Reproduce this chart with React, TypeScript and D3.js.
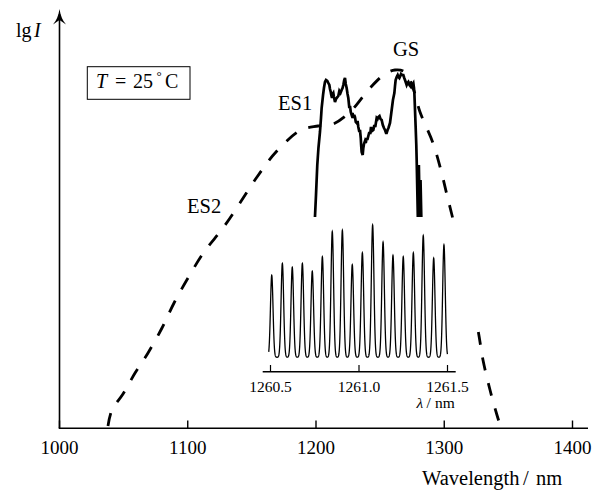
import React, { useLayoutEffect, useRef, useState } from "react";
import * as d3 from "d3";

// ---- data ----
const WL_TICKS = [1000, 1100, 1200, 1300, 1400];
const INSET_TICKS = [1260.5, 1261.0, 1261.5];

// dashed envelope (ES2 / ES1 / GS), lg I in arbitrary units
const ENV_WL = [1037.8, 1040.9, 1049.5, 1058.9, 1069.0, 1079.9, 1089.3, 1100.2, 1112.7, 1127.5, 1140.7, 1154.0, 1168.8, 1188.3, 1201.6, 1213.3, 1226.5, 1242.1, 1253.8, 1261.6, 1269.4, 1275.6, 1281.1, 1291.2, 1297.4, 1302.1, 1306.0, 1316.2, 1326.3, 1330.2, 1335.7, 1341.1, 1344.3];
const ENV_LGI = [0.02, 0.18, 0.34, 0.55, 0.75, 1.0, 1.25, 1.5, 1.76, 2.0, 2.25, 2.51, 2.76, 2.98, 3.02, 3.04, 3.16, 3.4, 3.54, 3.58, 3.56, 3.4, 3.16, 2.85, 2.58, 2.33, 2.13, 1.58, 0.98, 0.68, 0.38, 0.13, 0.0];
// wavelength span where the dashed trace is missing in the original
const ENV_GAP = [1307, 1325.5];

// solid lasing spectrum
const LAS_WL = [
  1199.2, 1200.0, 1201.0, 1201.9, 1203.1, 1203.9, 1204.4, 1205.5, 1206.2, 1207.0,
  1207.8, 1208.8, 1209.6, 1210.4, 1210.9, 1211.5, 1211.9, 1212.5, 1213.0, 1213.5,
  1214.0, 1214.8, 1215.6, 1216.1, 1216.8, 1217.4, 1218.2, 1219.1, 1220.0, 1220.7,
  1221.3, 1222.0, 1222.6, 1223.2, 1223.9, 1224.6, 1225.2, 1226.0, 1226.5, 1227.1,
  1227.8, 1228.5, 1229.1, 1229.8, 1230.4, 1231.0, 1231.7, 1232.4, 1233.0, 1233.8,
  1234.3, 1234.9, 1235.2, 1235.6, 1236.4, 1236.9, 1237.4, 1238.2, 1238.8, 1239.5,
  1240.0, 1240.8, 1241.6, 1242.3, 1242.9, 1243.7, 1244.7, 1245.5, 1246.2, 1247.3,
  1248.0, 1248.6, 1249.5, 1250.3, 1251.2, 1252.1, 1253.0, 1253.8, 1254.6, 1255.1,
  1255.8, 1256.5, 1257.7, 1258.5, 1259.0, 1260.0, 1261.1, 1261.6, 1262.1, 1262.9,
  1263.7, 1264.3, 1265.0, 1265.7, 1266.3, 1267.1, 1268.1, 1268.8, 1269.4, 1270.2,
  1270.7, 1271.4, 1272.0, 1272.9, 1274.1, 1274.9, 1275.9, 1276.4, 1276.7, 1277.2,
  1277.7, 1278.2, 1278.5, 1279.4, 1280.2, 1280.9, 1281.5, 1282.1];
const LAS_LGI = [
  2.11, 2.33, 2.63, 2.80, 2.96, 3.10, 3.20, 3.33, 3.40, 3.46,
  3.48, 3.47, 3.45, 3.43, 3.39, 3.36, 3.33, 3.30, 3.34, 3.35,
  3.31, 3.26, 3.29, 3.30, 3.31, 3.32, 3.37, 3.35, 3.38, 3.40,
  3.43, 3.48, 3.50, 3.44, 3.40, 3.34, 3.30, 3.20, 3.22, 3.16,
  3.13, 3.15, 3.10, 3.13, 3.11, 3.06, 3.05, 3.07, 3.01, 2.96,
  2.98, 2.90, 2.83, 2.76, 2.73, 2.80, 2.84, 2.87, 2.85, 2.90,
  2.88, 2.92, 2.96, 2.94, 3.01, 2.97, 2.98, 3.03, 3.01, 3.10,
  3.09, 3.11, 3.12, 3.09, 3.08, 3.03, 3.00, 2.98, 2.95, 2.95,
  2.98, 3.00, 3.05, 3.13, 3.18, 3.28, 3.35, 3.42, 3.48, 3.51,
  3.53, 3.51, 3.50, 3.52, 3.54, 3.53, 3.53, 3.50, 3.48, 3.45,
  3.43, 3.45, 3.46, 3.43, 3.41, 3.43, 3.45, 3.40, 3.35, 3.18,
  3.01, 2.83, 2.68, 2.11, 2.63, 2.11, 2.48, 2.11];

// inset: longitudinal modes
const MODE_WL = [1260.507, 1260.567, 1260.623, 1260.68, 1260.736, 1260.793, 1260.849, 1260.906, 1260.962, 1261.019, 1261.077, 1261.136, 1261.192, 1261.25, 1261.307, 1261.363, 1261.422, 1261.48];
const MODE_H = [0.62, 0.71, 0.68, 0.71, 0.65, 0.76, 0.95, 0.96, 0.7, 0.79, 1.0, 0.87, 0.77, 0.76, 0.79, 0.92, 0.75, 0.85];
const MODE_SIGMA = 0.0073;

const FONT = '"Liberation Serif", "Times New Roman", serif';

export default function App() {
  const W = 598, H = 490;
  const x = d3.scaleLinear().domain([1000, 1400]).range([59.5, 572.5]);
  const y = d3.scaleLinear().domain([0, 4]).range([428, 28]);
  const xi = d3.scaleLinear().domain([1260.5, 1261.5]).range([270.5, 447.5]);
  const yi = d3.scaleLinear().domain([0, 1]).range([357.3, 225]);

  const envLine = d3.line<number>()
    .x((_, i) => x(ENV_WL[i]))
    .y((_, i) => y(ENV_LGI[i]))
    .curve(d3.curveCatmullRom.alpha(0.5));
  const lasLine = d3.line<number>()
    .x((_, i) => x(LAS_WL[i]))
    .y((_, i) => y(LAS_LGI[i]));

  const samples: [number, number][] = [];
  for (let w = 1260.49; w <= 1261.5; w += 0.0005) {
    let s = 0;
    MODE_WL.forEach((c, k) => {
      s += MODE_H[k] * Math.exp(-((w - c) ** 2) / (2 * MODE_SIGMA * MODE_SIGMA));
    });
    samples.push([w, s]);
  }
  const insetLine = d3.line<[number, number]>().x(d => xi(d[0])).y(d => yi(d[1]));

  const envRef = useRef<SVGPathElement>(null);
  const [dash, setDash] = useState("13 13");
  useLayoutEffect(() => {
    const p = envRef.current;
    if (!p) return;
    const L = p.getTotalLength();
    const lenAtX = (px: number) => {
      let lo = 0, hi = L;
      for (let k = 0; k < 40; k++) {
        const m = (lo + hi) / 2;
        if (p.getPointAtLength(m).x < px) lo = m; else hi = m;
      }
      return lo;
    };
    const a = lenAtX(x(ENV_GAP[0]));
    const b = lenAtX(x(ENV_GAP[1]));
    const intervals: [number, number][] = [];
    for (let s = 0; s < L; s += 26) {
      const e = Math.min(s + 13, L);
      if (e <= a || s >= b) intervals.push([s, e]);
      else if (s < a) intervals.push([s, a]);
      else if (e > b) intervals.push([b, e]);
    }
    const arr: number[] = [];
    let pos = 0;
    intervals.forEach(([s, e]) => {
      arr.push(s - pos < 0 ? 0 : s - pos);
      arr.push(e - s);
      pos = e;
    });
    // dasharray must start with a dash: shift so first entry is gap 0
    const out = [0, ...arr, L];
    setDash(out.map(v => v.toFixed(2)).join(" "));
  }, []);

  return (
    <svg width={W} height={H} style={{ position: "absolute", left: 0, top: 0, background: "#fff" }} fontFamily={FONT}>
      <rect width={W} height={H} fill="#fff" />
      {/* axes */}
      <line x1={59.5} y1={428} x2={59.5} y2={14} stroke="#000" strokeWidth={1.6} />
      <path d="M59.5,9 Q61,19 66,24.5 L59.5,20 L53,24.5 Q58,19 59.5,9 Z" fill="#000" />
      <line x1={58.7} y1={428.3} x2={588} y2={428.3} stroke="#000" strokeWidth={1.6} />
      {WL_TICKS.map(t => (
        <g key={t}>
          <line x1={x(t)} x2={x(t)} y1={428} y2={420.5} stroke="#000" strokeWidth={1.4} />
          <text x={x(t)} y={454} fontSize={19} textAnchor="middle">{t}</text>
        </g>
      ))}
      <text y={485} fontSize={20.5}>
        <tspan x={422}>Wavelength</tspan>
        <tspan x={523}>/</tspan>
        <tspan x={536}>nm</tspan>
      </text>
      <text y={36.7} fontSize={20}>
        <tspan x={16}>lg</tspan>
        <tspan x={34} fontStyle="italic">I</tspan>
      </text>

      {/* legend box */}
      <rect x={87.3} y={66.7} width={102.7} height={32.6} fill="none" stroke="#000" strokeWidth={1} />
      <text y={88.3} fontSize={20}>
        <tspan x={96} fontStyle="italic">T</tspan>
        <tspan x={115}>=</tspan>
        <tspan x={133}>25</tspan>
        <tspan x={156.5} fontSize={13} dy={-8}>°</tspan>
        <tspan x={165} dy={8}>C</tspan>
      </text>

      {/* curves */}
      <path ref={envRef} d={envLine(ENV_WL) || ""} fill="none" stroke="#000" strokeWidth={2.8} strokeDasharray={dash} />
      <path d={lasLine(LAS_WL) || ""} fill="none" stroke="#000" strokeWidth={2.7} strokeLinejoin="miter" strokeMiterlimit={3} />

      <text x={393} y={56} fontSize={20.5}>GS</text>
      <text x={278} y={110} fontSize={20.5}>ES1</text>
      <text x={187} y={213} fontSize={20.5}>ES2</text>

      {/* inset */}
      <path d={insetLine(samples) || ""} fill="none" stroke="#000" strokeWidth={1.3} />
      <line x1={262.7} x2={455.7} y1={371.7} y2={371.7} stroke="#000" strokeWidth={1.4} />
      {INSET_TICKS.map(t => (
        <g key={t}>
          <line x1={xi(t)} x2={xi(t)} y1={371.7} y2={365} stroke="#000" strokeWidth={1.2} />
          <text x={xi(t)} y={392} fontSize={15.5} textAnchor="middle">{d3.format(".1f")(t)}</text>
        </g>
      ))}
      <text y={408} fontSize={15.5}>
        <tspan x={416.5} fontStyle="italic">λ</tspan>
        <tspan x={426.5}>/</tspan>
        <tspan x={435}>nm</tspan>
      </text>
    </svg>
  );
}
